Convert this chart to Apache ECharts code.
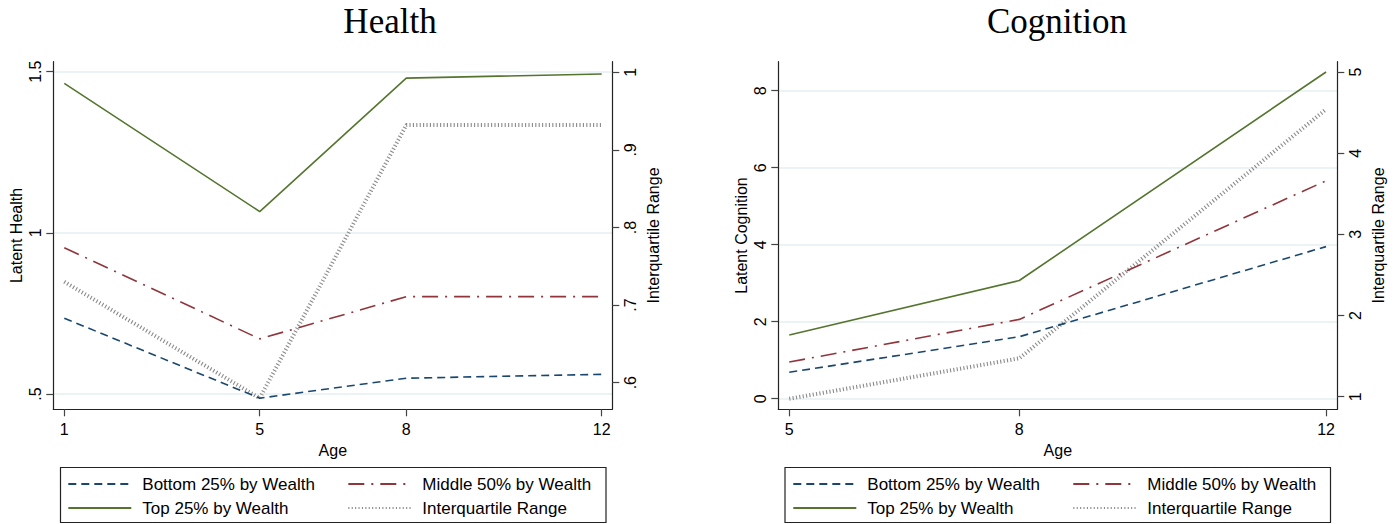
<!DOCTYPE html>
<html>
<head>
<meta charset="utf-8">
<script src="https://cdn.jsdelivr.net/npm/echarts@6/dist/echarts.min.js"></script>
<style>html,body{margin:0;padding:0;background:#fff}#c{width:1398px;height:524px}</style>
</head>
<body>
<div id="c"></div>
<script>
// ---- data ----
const seriesNames = ['Bottom 25% by Wealth', 'Middle 50% by Wealth', 'Top 25% by Wealth', 'Interquartile Range'];

const healthAges = [1, 5, 8, 12];
const healthBottom = [0.735, 0.487, 0.549, 0.561];
const healthMiddle = [0.954, 0.671, 0.802, 0.802];
const healthTop = [1.464, 1.066, 1.480, 1.493];
const healthIQR = [0.730, 0.580, 0.932, 0.932];

const cognAges = [5, 8, 12];
const cognBottom = [0.686, 1.61, 3.95];
const cognMiddle = [0.953, 2.06, 5.66];
const cognTop = [1.655, 3.07, 8.486];
const cognIQR = [0.975, 1.473, 4.54];

// tick values / labels
const healthXTicks = [1, 5, 8, 12];
const healthLeftTicks = [0.5, 1, 1.5];
const healthRightTicks = [0.6, 0.7, 0.8, 0.9, 1];
const cognXTicks = [5, 8, 12];
const cognLeftTicks = [0, 2, 4, 6, 8];
const cognRightTicks = [1, 2, 3, 4, 5];

// ---- styling ----
const FONT = 'Liberation Sans';
const colors = { bottom: '#1a476f', middle: '#90353b', top: '#55752f', iqr: '#8a8a8a' };
const fmt = v => { let s = String(Math.round(v * 1000) / 1000); return s.replace(/^0\./, '.').replace(/^-0\./, '-.'); };

function pairs(xs, ys) { return xs.map((x, i) => [x, ys[i]]); }

function xAxisCfg(grid, min, max, ticks) {
  return {
    type: 'value', gridIndex: grid, min: min, max: max,
    name: 'Age', nameLocation: 'middle', nameGap: 30,
    nameTextStyle: { fontFamily: FONT, fontSize: 16, color: '#000' },
    axisLine: { show: true, onZero: false, lineStyle: { color: '#222', width: 1.2 } },
    axisTick: { show: true, length: 7, customValues: ticks, lineStyle: { color: '#444', width: 1.2 } },
    axisLabel: { show: true, customValues: ticks, margin: 12, fontFamily: FONT, fontSize: 16, color: '#000', formatter: fmt },
    splitLine: { show: false }
  };
}
function yAxisCfg(grid, pos, min, max, ticks, name, gap, grid_lines) {
  return {
    type: 'value', gridIndex: grid, position: pos, min: min, max: max,
    name: name, nameLocation: 'middle', nameGap: gap,
    nameTextStyle: { fontFamily: FONT, fontSize: 16, color: '#000' },
    axisLine: { show: true, onZero: false, lineStyle: { color: '#222', width: 1.2 } },
    axisTick: { show: true, length: 7, customValues: ticks, lineStyle: { color: '#444', width: 1.2 } },
    axisLabel: { show: true, customValues: ticks, rotate: 90, margin: 10, fontFamily: FONT, fontSize: 16, color: '#000', formatter: fmt },
    splitLine: { show: grid_lines, lineStyle: { color: '#e6eff1', width: 1.5 } }
  };
}

const styles = [
  { color: colors.bottom, width: 1.6, type: [8, 5] },
  { color: colors.middle, width: 1.6, type: [16, 7, 2, 7] },
  { color: colors.top, width: 1.6, type: 'solid' },
  { color: colors.iqr, width: 4, type: [1.1, 2.3] }
];

function mkSeries(name, idx, xi, yi, data) {
  const st = styles[idx];
  return {
    type: 'line', name: name, xAxisIndex: xi, yAxisIndex: yi, data: data,
    symbol: 'none', showSymbol: false, animation: false,
    lineStyle: { color: st.color, width: st.width, type: st.type, cap: 'butt' },
    itemStyle: { color: st.color },
    z: idx === 3 ? 1 : 2
  };
}

function legendCfg(left, names) {
  return {
    orient: 'vertical', left: left, top: 474, padding: 0, itemGap: 4,
    itemWidth: 63, itemHeight: 14, selectedMode: false,
    data: names,
    itemStyle: { color: 'rgba(0,0,0,0)', borderWidth: 0, opacity: 0 },
    textStyle: { fontFamily: FONT, fontSize: 17, color: '#000', lineHeight: 20, padding: [0, 0, 0, 6] }
  };
}

const option = {
  animation: false,
  backgroundColor: '#fff',
  grid: [
    { left: 53.3, top: 61.7, width: 559, height: 347.6, containLabel: false },
    { left: 778.3, top: 61.7, width: 559, height: 347.6, containLabel: false }
  ],
  xAxis: [
    xAxisCfg(0, 0.775, 12.217, healthXTicks),
    xAxisCfg(1, 4.857, 12.147, cognXTicks)
  ],
  yAxis: [
    yAxisCfg(0, 'left', 0.4525, 1.531, healthLeftTicks, 'Latent Health', 29, true),
    yAxisCfg(0, 'right', 0.5657, 1.0137, healthRightTicks, 'Interquartile Range', 33, false),
    yAxisCfg(1, 'left', -0.275, 8.753, cognLeftTicks, 'Latent Cognition', 29, true),
    yAxisCfg(1, 'right', 0.845, 5.127, cognRightTicks, 'Interquartile Range', 33, false)
  ],
  legend: [
    legendCfg(67.3, [seriesNames[0], seriesNames[2]]),
    legendCfg(347.3, [seriesNames[1], seriesNames[3]]),
    legendCfg(792.3, [seriesNames[0], seriesNames[2]]),
    legendCfg(1072.3, [seriesNames[1], seriesNames[3]])
  ],
  graphic: [
    { type: 'text', x: 390, y: 21, style: { text: 'Health', fontFamily: 'Liberation Serif', fontSize: 35, fill: '#000', align: 'center', verticalAlign: 'middle' } },
    { type: 'text', x: 1057, y: 21, style: { text: 'Cognition', fontFamily: 'Liberation Serif', fontSize: 35, fill: '#000', align: 'center', verticalAlign: 'middle' } },
    { type: 'rect', shape: { x: 60.5, y: 467.5, width: 545.5, height: 55 }, style: { fill: 'none', stroke: '#222', lineWidth: 1.2 }, silent: true },
    { type: 'rect', shape: { x: 785, y: 467.5, width: 545.5, height: 55 }, style: { fill: 'none', stroke: '#222', lineWidth: 1.2 }, silent: true }
  ],
  series: [
    mkSeries(seriesNames[3], 3, 0, 1, pairs(healthAges, healthIQR)),
    mkSeries(seriesNames[0], 0, 0, 0, pairs(healthAges, healthBottom)),
    mkSeries(seriesNames[1], 1, 0, 0, pairs(healthAges, healthMiddle)),
    mkSeries(seriesNames[2], 2, 0, 0, pairs(healthAges, healthTop)),
    mkSeries(seriesNames[3], 3, 1, 3, pairs(cognAges, cognIQR)),
    mkSeries(seriesNames[0], 0, 1, 2, pairs(cognAges, cognBottom)),
    mkSeries(seriesNames[1], 1, 1, 2, pairs(cognAges, cognMiddle)),
    mkSeries(seriesNames[2], 2, 1, 2, pairs(cognAges, cognTop))
  ]
};

const chart = echarts.init(document.getElementById('c'), null, { renderer: 'svg', width: 1398, height: 524 });
chart.setOption(option);
</script>
</body>
</html>
